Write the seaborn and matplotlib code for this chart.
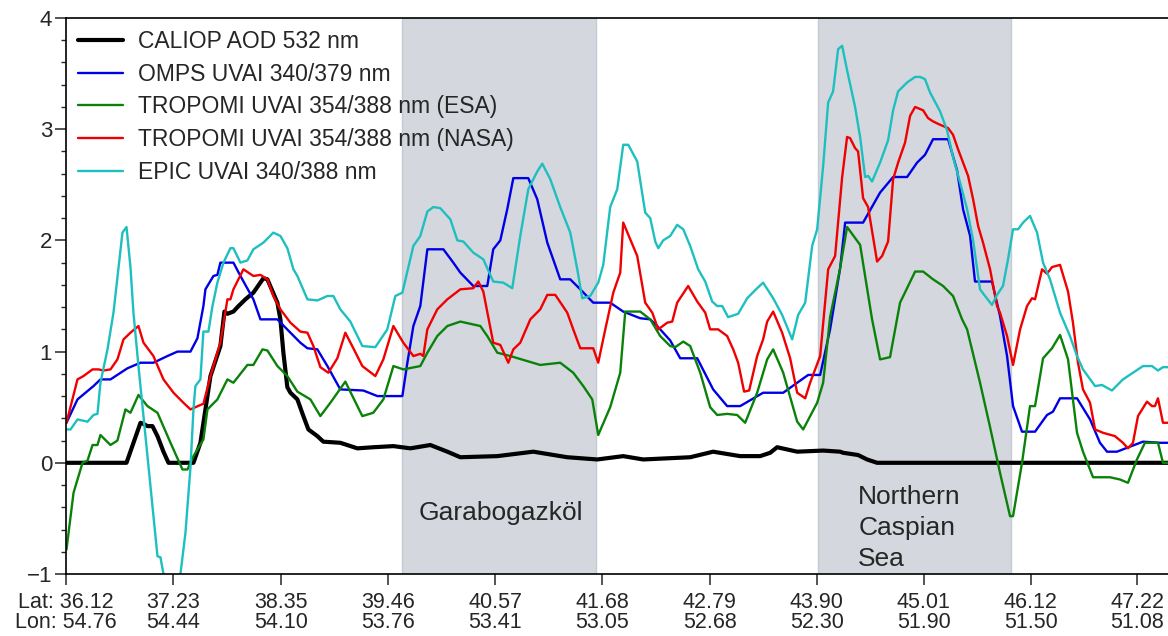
import numpy as np
import pandas as pd
import matplotlib
matplotlib.use("Agg")
import matplotlib.pyplot as plt
import seaborn as sns
from matplotlib.ticker import MultipleLocator

sns.set_theme(style="ticks")
plt.rcParams['font.family'] = ['Liberation Sans', 'DejaVu Sans']

# ---------------- data (latitude along track, value) ----------------
caliop_lat = [36.125, 36.747, 36.892, 36.923, 36.964, 37.016, 37.068, 37.130, 37.182, 37.441,
              37.513, 37.617, 37.720, 37.762, 37.793, 37.855, 37.897, 37.979, 38.062, 38.166,
              38.207, 38.311, 38.342, 38.373, 38.414, 38.446, 38.518, 38.580, 38.632, 38.725,
              38.787, 38.963, 39.140, 39.305, 39.513, 39.689, 39.896, 40.072, 40.207, 40.590,
              40.963, 41.315, 41.626, 41.895, 42.102, 42.589, 42.827, 43.107, 43.314, 43.418,
              43.490, 43.698, 43.967, 44.143, 44.174, 44.329, 44.422, 44.526, 47.541]
caliop_val = [0.0, 0.0, 0.36, 0.35, 0.33, 0.33, 0.24, 0.10, 0.0, 0.0,
              0.18, 0.78, 1.05, 1.36, 1.34, 1.36, 1.40, 1.47, 1.53, 1.66,
              1.65, 1.44, 1.29, 0.99, 0.68, 0.63, 0.57, 0.42, 0.30, 0.24,
              0.19, 0.18, 0.13, 0.14, 0.15, 0.13, 0.16, 0.10, 0.05, 0.06,
              0.10, 0.05, 0.03, 0.06, 0.03, 0.05, 0.10, 0.06, 0.06, 0.09,
              0.14, 0.10, 0.11, 0.10, 0.09, 0.07, 0.03, 0.0, 0.0]

omps_lat = [36.125, 36.239, 36.405, 36.477, 36.581, 36.757, 36.892, 37.026, 37.171, 37.275,
            37.410, 37.482, 37.544, 37.565, 37.648, 37.689, 37.720, 37.855, 37.928, 38.062,
            38.135, 38.311, 38.446, 38.549, 38.622, 38.725, 38.829, 38.963, 39.202, 39.347,
            39.606, 39.658, 39.720, 39.792, 39.865, 40.031, 40.134, 40.207, 40.341, 40.486,
            40.548, 40.621, 40.693, 40.756, 40.911, 41.004, 41.108, 41.242, 41.346, 41.450,
            41.584, 41.760, 41.895, 42.071, 42.175, 42.247, 42.382, 42.486, 42.662, 42.827,
            42.972, 43.107, 43.345, 43.553, 43.698, 43.812, 43.936, 44.039, 44.143, 44.195,
            44.381, 44.557, 44.692, 44.837, 44.941, 45.023, 45.106, 45.262, 45.355, 45.417,
            45.490, 45.541, 45.717, 45.800, 45.873, 45.935, 46.028, 46.163, 46.287, 46.349,
            46.422, 46.598, 46.733, 46.836, 46.909, 47.012, 47.282, 47.458, 47.541]
omps_val = [0.36, 0.57, 0.69, 0.75, 0.75, 0.85, 0.90, 0.90, 0.96, 1.00,
            1.00, 1.12, 1.41, 1.56, 1.68, 1.69, 1.80, 1.80, 1.68, 1.47,
            1.29, 1.29, 1.17, 1.08, 1.03, 1.02, 0.87, 0.66, 0.65, 0.60,
            0.60, 0.90, 1.23, 1.41, 1.92, 1.92, 1.80, 1.71, 1.59, 1.59,
            1.92, 2.00, 2.28, 2.56, 2.56, 2.37, 1.98, 1.65, 1.65, 1.56,
            1.44, 1.44, 1.36, 1.30, 1.29, 1.23, 1.10, 0.94, 0.94, 0.66,
            0.51, 0.51, 0.63, 0.63, 0.72, 0.79, 0.79, 1.20, 1.75, 2.16,
            2.16, 2.43, 2.57, 2.57, 2.70, 2.77, 2.91, 2.91, 2.63, 2.28,
            2.04, 1.63, 1.63, 1.32, 0.96, 0.51, 0.28, 0.28, 0.43, 0.46,
            0.58, 0.58, 0.39, 0.18, 0.10, 0.10, 0.19, 0.18, 0.18]

esa_lat = [36.125, 36.198, 36.291, 36.343, 36.395, 36.446, 36.477, 36.581, 36.653, 36.736,
           36.788, 36.871, 36.964, 37.068, 37.203, 37.327, 37.379, 37.441, 37.544, 37.586,
           37.689, 37.793, 37.855, 38.000, 38.062, 38.156, 38.207, 38.311, 38.414, 38.518,
           38.653, 38.756, 38.860, 39.015, 39.191, 39.305, 39.409, 39.513, 39.616, 39.792,
           39.865, 39.968, 40.072, 40.207, 40.414, 40.486, 40.590, 40.725, 41.035, 41.242,
           41.377, 41.481, 41.574, 41.636, 41.760, 41.864, 41.916, 42.071, 42.175, 42.278,
           42.382, 42.434, 42.517, 42.589, 42.693, 42.796, 42.869, 42.972, 43.076, 43.159,
           43.283, 43.387, 43.449, 43.553, 43.698, 43.760, 43.905, 43.967, 44.039, 44.143,
           44.215, 44.350, 44.474, 44.557, 44.660, 44.764, 44.920, 45.003, 45.106, 45.210,
           45.313, 45.407, 45.459, 45.593, 45.697, 45.800, 45.904, 45.935, 46.028, 46.111,
           46.163, 46.246, 46.339, 46.422, 46.505, 46.598, 46.660, 46.764, 46.940, 47.043,
           47.126, 47.219, 47.302, 47.437, 47.489, 47.541]
esa_val = [-0.78, -0.27, 0.00, 0.02, 0.16, 0.16, 0.25, 0.16, 0.20, 0.48,
           0.45, 0.61, 0.51, 0.45, 0.18, -0.06, -0.06, 0.06, 0.21, 0.48,
           0.57, 0.75, 0.72, 0.88, 0.88, 1.02, 1.01, 0.87, 0.78, 0.64,
           0.57, 0.42, 0.54, 0.73, 0.42, 0.45, 0.57, 0.87, 0.84, 0.87,
           0.99, 1.14, 1.23, 1.27, 1.23, 1.14, 0.99, 0.96, 0.88, 0.90,
           0.81, 0.69, 0.57, 0.25, 0.50, 0.81, 1.36, 1.36, 1.29, 1.14,
           1.05, 1.04, 1.09, 1.05, 0.81, 0.50, 0.43, 0.44, 0.43, 0.36,
           0.63, 0.93, 1.02, 0.81, 0.37, 0.30, 0.54, 0.72, 1.31, 1.75,
           2.12, 1.96, 1.29, 0.93, 0.95, 1.44, 1.72, 1.72, 1.65, 1.59,
           1.50, 1.29, 1.20, 0.72, 0.32, -0.09, -0.48, -0.48, 0.00, 0.51,
           0.51, 0.94, 1.03, 1.15, 0.93, 0.27, 0.10, -0.13, -0.13, -0.15,
           -0.18, 0.03, 0.18, 0.18, 0.00, 0.00]

nasa_lat = [36.125, 36.239, 36.301, 36.395, 36.457, 36.508, 36.581, 36.653, 36.716, 36.788,
            36.871, 36.923, 37.026, 37.130, 37.234, 37.337, 37.410, 37.513, 37.544, 37.617,
            37.720, 37.793, 37.824, 37.855, 37.959, 38.062, 38.135, 38.207, 38.269, 38.342,
            38.446, 38.549, 38.622, 38.684, 38.756, 38.839, 38.932, 39.015, 39.098, 39.191,
            39.326, 39.409, 39.513, 39.616, 39.720, 39.792, 39.823, 39.865, 39.968, 40.072,
            40.207, 40.341, 40.393, 40.445, 40.548, 40.621, 40.704, 40.756, 40.828, 40.932,
            41.035, 41.108, 41.191, 41.315, 41.377, 41.450, 41.584, 41.636, 41.709, 41.792,
            41.864, 41.895, 42.040, 42.123, 42.196, 42.258, 42.351, 42.403, 42.454, 42.568,
            42.662, 42.745, 42.796, 42.879, 42.972, 43.035, 43.086, 43.148, 43.200, 43.283,
            43.345, 43.387, 43.449, 43.542, 43.625, 43.698, 43.781, 43.832, 43.936, 44.019,
            44.091, 44.164, 44.215, 44.246, 44.298, 44.329, 44.381, 44.433, 44.526, 44.578,
            44.640, 44.692, 44.744, 44.816, 44.868, 44.920, 45.003, 45.054, 45.106, 45.179,
            45.262, 45.313, 45.365, 45.417, 45.469, 45.521, 45.573, 45.624, 45.697, 45.769,
            45.800, 45.873, 45.935, 46.008, 46.080, 46.132, 46.163, 46.236, 46.287, 46.339,
            46.422, 46.505, 46.556, 46.608, 46.660, 46.733, 46.785, 46.867, 46.991, 47.074,
            47.126, 47.178, 47.230, 47.323, 47.375, 47.406, 47.437, 47.489, 47.541]
nasa_val = [0.36, 0.75, 0.78, 0.84, 0.84, 0.83, 0.84, 0.93, 1.11, 1.17,
            1.23, 1.08, 0.96, 0.75, 0.63, 0.54, 0.48, 0.52, 0.53, 0.78,
            1.08, 1.47, 1.47, 1.56, 1.74, 1.68, 1.69, 1.65, 1.50, 1.38,
            1.26, 1.18, 1.17, 1.05, 0.86, 0.81, 0.94, 1.17, 1.03, 0.87,
            0.78, 0.93, 1.23, 1.08, 0.96, 0.98, 0.96, 1.20, 1.38, 1.47,
            1.56, 1.57, 1.63, 1.54, 1.08, 1.06, 0.90, 1.02, 1.08, 1.29,
            1.38, 1.51, 1.51, 1.35, 1.20, 1.03, 1.03, 0.90, 1.20, 1.53,
            1.71, 2.16, 1.86, 1.44, 1.35, 1.20, 1.26, 1.27, 1.44, 1.59,
            1.45, 1.35, 1.20, 1.20, 1.14, 1.02, 0.90, 0.64, 0.65, 0.96,
            1.11, 1.27, 1.36, 1.17, 0.94, 0.63, 0.58, 0.72, 0.96, 1.74,
            1.86, 2.57, 2.93, 2.92, 2.83, 2.80, 2.38, 2.30, 1.81, 1.86,
            1.99, 2.55, 2.70, 2.88, 3.12, 3.20, 3.17, 3.10, 3.07, 3.04,
            3.01, 2.95, 2.82, 2.70, 2.58, 2.37, 2.13, 1.98, 1.74, 1.41,
            1.35, 1.14, 0.88, 1.20, 1.41, 1.48, 1.47, 1.74, 1.70, 1.76,
            1.78, 1.54, 1.26, 0.90, 0.66, 0.54, 0.30, 0.27, 0.24, 0.18,
            0.13, 0.18, 0.42, 0.55, 0.51, 0.51, 0.58, 0.36, 0.36]

epic_lat = [36.125, 36.167, 36.239, 36.343, 36.405, 36.446, 36.477, 36.550, 36.612, 36.705,
            36.747, 36.788, 36.819, 36.871, 36.923, 36.975, 37.026, 37.068, 37.099, 37.130,
            37.213, 37.306, 37.358, 37.410, 37.441, 37.461, 37.513, 37.544, 37.596, 37.638,
            37.689, 37.752, 37.824, 37.855, 37.928, 38.000, 38.062, 38.166, 38.269, 38.342,
            38.414, 38.477, 38.518, 38.622, 38.725, 38.829, 38.891, 38.963, 39.067, 39.191,
            39.326, 39.450, 39.533, 39.606, 39.720, 39.792, 39.865, 39.927, 39.999, 40.103,
            40.176, 40.238, 40.341, 40.445, 40.548, 40.652, 40.745, 40.828, 40.911, 41.004,
            41.056, 41.139, 41.242, 41.346, 41.419, 41.470, 41.553, 41.636, 41.688, 41.760,
            41.833, 41.895, 41.947, 42.040, 42.123, 42.175, 42.227, 42.258, 42.309, 42.382,
            42.454, 42.517, 42.589, 42.672, 42.745, 42.817, 42.869, 42.921, 42.982, 43.086,
            43.180, 43.283, 43.345, 43.449, 43.542, 43.646, 43.708, 43.781, 43.853, 43.905,
            43.967, 44.019, 44.070, 44.122, 44.164, 44.215, 44.298, 44.350, 44.402, 44.433,
            44.474, 44.557, 44.640, 44.692, 44.744, 44.837, 44.920, 44.972, 45.023, 45.075,
            45.179, 45.251, 45.313, 45.386, 45.459, 45.521, 45.593, 45.645, 45.717, 45.769,
            45.831, 45.883, 45.935, 45.987, 46.039, 46.111, 46.184, 46.246, 46.318, 46.422,
            46.525, 46.598, 46.660, 46.785, 46.857, 46.960, 47.074, 47.178, 47.282, 47.375,
            47.437, 47.489, 47.541]
epic_val = [0.30, 0.30, 0.39, 0.37, 0.43, 0.44, 0.72, 1.02, 1.35, 2.07,
            2.12, 1.76, 1.35, 0.87, 0.42, -0.04, -0.48, -0.84, -0.85, -1.00,
            -1.35, -1.00, -0.63, -0.04, 0.48, 0.69, 0.75, 1.18, 1.18, 1.41,
            1.62, 1.80, 1.93, 1.93, 1.80, 1.82, 1.92, 1.98, 2.07, 2.04,
            1.93, 1.74, 1.68, 1.47, 1.46, 1.50, 1.50, 1.38, 1.27, 1.05,
            1.04, 1.20, 1.50, 1.53, 1.95, 2.04, 2.26, 2.30, 2.29, 2.19,
            2.00, 1.99, 1.89, 1.83, 1.63, 1.62, 1.57, 2.04, 2.46, 2.62,
            2.69, 2.55, 2.30, 2.07, 1.74, 1.48, 1.50, 1.62, 1.78, 2.30,
            2.46, 2.86, 2.86, 2.71, 2.25, 2.20, 1.99, 1.93, 2.00, 2.04,
            2.14, 2.10, 1.95, 1.74, 1.63, 1.45, 1.41, 1.41, 1.31, 1.34,
            1.48, 1.57, 1.62, 1.48, 1.33, 1.11, 1.33, 1.44, 1.95, 2.10,
            2.67, 3.24, 3.34, 3.72, 3.75, 3.53, 3.20, 2.93, 2.57, 2.58,
            2.53, 2.70, 2.90, 3.17, 3.34, 3.42, 3.47, 3.47, 3.45, 3.33,
            3.16, 2.99, 2.75, 2.52, 2.28, 2.00, 1.56, 1.50, 1.42, 1.51,
            1.59, 1.83, 2.10, 2.10, 2.16, 2.22, 2.07, 1.80, 1.65, 1.35,
            1.14, 0.96, 0.84, 0.69, 0.70, 0.65, 0.75, 0.81, 0.87, 0.87,
            0.83, 0.86, 0.86]

series_names = ["CALIOP AOD 532 nm", "OMPS UVAI 340/379 nm", "TROPOMI UVAI 354/388 nm (ESA)",
                "TROPOMI UVAI 354/388 nm (NASA)", "EPIC UVAI 340/388 nm"]
series_colors = ["#000000", "#0000e6", "#0a820a", "#f00000", "#1ebfbf"]
series_widths = [3.0, 1.7, 1.7, 1.7, 1.7]

tick_lat = [36.12, 37.23, 38.35, 39.46, 40.57, 41.68, 42.79, 43.90, 45.01, 46.12, 47.22]
tick_lon = [54.76, 54.44, 54.10, 53.76, 53.41, 53.05, 52.68, 52.30, 51.90, 51.50, 51.08]

regions = [(39.606, 41.615, "Garabogazköl"), (43.915, 45.915, "Northern\nCaspian\nSea")]

# ---------------- figure ----------------
frames = []
for name, la, va in zip(series_names,
                        [caliop_lat, omps_lat, esa_lat, nasa_lat, epic_lat],
                        [caliop_val, omps_val, esa_val, nasa_val, epic_val]):
    frames.append(pd.DataFrame({"lat": la, "value": va, "series": name}))
df = pd.concat(frames, ignore_index=True)

fig = plt.figure(figsize=(11.68, 6.36), dpi=100)
ax = fig.add_axes([66 / 1168, 1 - 574 / 636, (1168 - 66) / 1168, (574 - 18) / 636])

for (x0, x1, _) in regions:
    ax.axvspan(x0, x1, facecolor="#d4d7dd", edgecolor="#c5cad3", linewidth=1.0, zorder=0)

for name, col, lw in zip(series_names, series_colors, series_widths):
    sub = df[df["series"] == name]
    sns.lineplot(data=sub, x="lat", y="value", ax=ax, color=col, linewidth=lw,
                 label=name, estimator=None, sort=False)

ax.text(40.63, -0.45, regions[0][2], ha="center", va="center", fontsize=19)
ax.text(44.33, -0.20, regions[1][2], ha="left", va="top", fontsize=19, linespacing=1.36)

ax.set_xlim(36.12, 47.541)
ax.set_ylim(-1, 4)
ax.set_xlabel("")
ax.set_ylabel("")

ax.set_xticks(tick_lat)
labels = []
for i, (la, lo) in enumerate(zip(tick_lat, tick_lon)):
    if i == 0:
        labels.append(f"Lat: {la:.2f}\nLon: {lo:.2f}")
    else:
        labels.append(f"{la:.2f}\n{lo:.2f}")
ax.set_xticklabels(labels, fontsize=15.5, linespacing=0.95)

ax.yaxis.set_major_locator(MultipleLocator(1))
ax.yaxis.set_minor_locator(MultipleLocator(0.2))
ax.tick_params(axis="y", which="major", direction="out", length=8, width=1.1, pad=2, labelsize=16)
ax.tick_params(axis="y", which="minor", direction="out", length=3.5, width=1.0)
ax.tick_params(axis="x", which="major", direction="out", length=8, width=1.1, pad=5)

for s in ["left", "bottom", "top"]:
    ax.spines[s].set_visible(True)
    ax.spines[s].set_linewidth(1.2)
    ax.spines[s].set_color("black")
ax.spines["right"].set_visible(False)

ax.legend(loc="upper left", bbox_to_anchor=(0.011, 0.978), frameon=False, fontsize=16.5,
          handlelength=1.95, handletextpad=0.65, labelspacing=0.42, borderaxespad=0, borderpad=0)

fig.savefig("out.png", dpi=100)
